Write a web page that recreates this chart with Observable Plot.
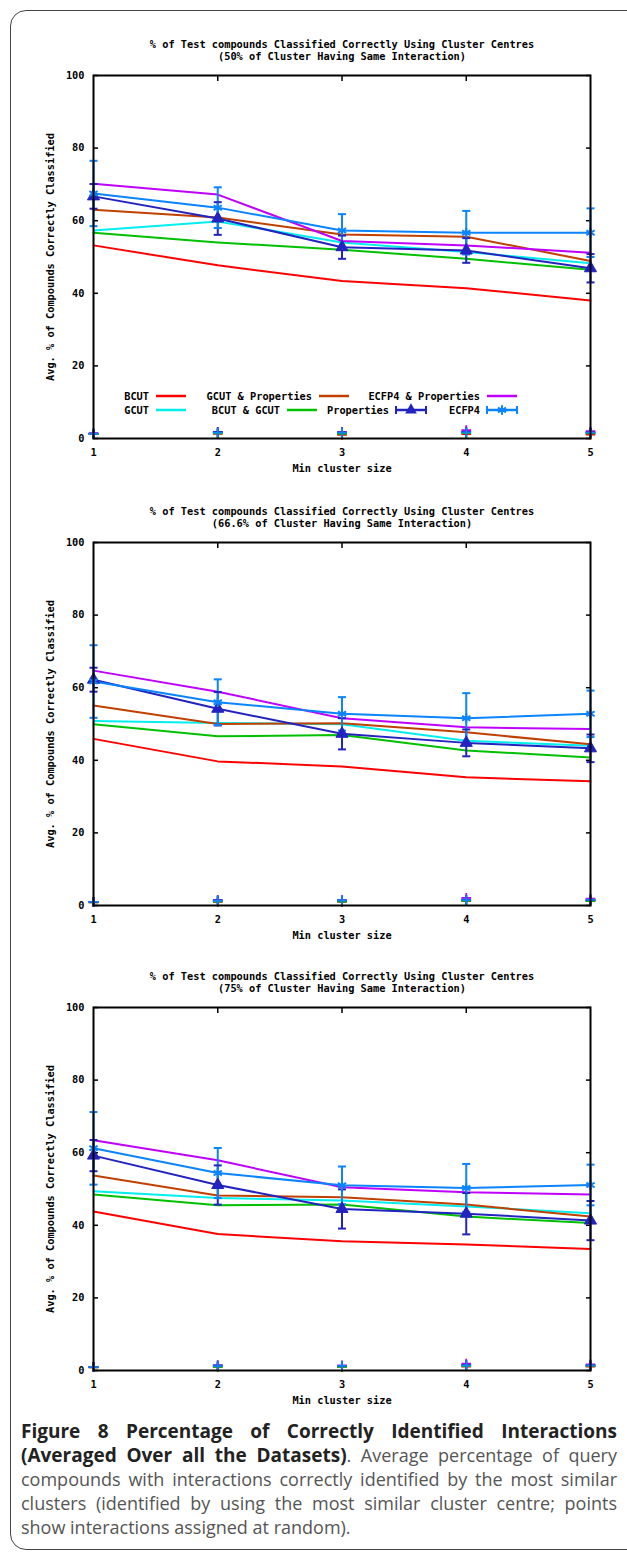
<!DOCTYPE html>
<html><head><meta charset="utf-8">
<script src="https://cdn.jsdelivr.net/npm/d3@7"></script>
<script src="https://cdn.jsdelivr.net/npm/@observablehq/plot@0.6"></script>
<style>
body{margin:0;background:#fff;width:627px;height:1560px;overflow:hidden;position:relative;}
#border{position:absolute;left:10px;top:10px;width:640px;height:1540px;border:1.5px solid #444;border-radius:16px;box-sizing:border-box;}
.panel{position:absolute;left:0;width:627px;}
.legend{position:absolute;left:0;}
#caption{position:absolute;left:21px;width:596px;top:1419px;font-family:"Open Sans";font-size:18px;line-height:24px;color:#555;}
#caption .ln{display:block;height:24px;white-space:nowrap;text-align:justify;text-align-last:justify;}
#caption .ln.last{text-align:left;text-align-last:left;}
#caption b{color:#222;font-weight:700;font-size:19px;}
</style></head><body>
<div id="border"></div>
<div id="p1" class="panel" style="top:25px"></div>
<div id="p2" class="panel" style="top:492px"></div>
<div id="p3" class="panel" style="top:957px"></div>
<div id="caption"><span class="ln" style="white-space:normal"><b>Figure 8 Percentage of Correctly Identified Interactions</b></span><span class="ln" style="white-space:normal"><b>(Averaged Over all the Datasets)</b>. Average percentage of query</span><span class="ln" style="white-space:normal">compounds with interactions correctly identified by the most similar</span><span class="ln" style="white-space:normal">clusters (identified by using the most similar cluster centre; points</span><span class="ln last">show interactions assigned at random).</span></div>
<script>
// ---- data ----
const clusterSizes = [1, 2, 3, 4, 5];
const yTicks = [0, 20, 40, 60, 80, 100];
const innerXTicks = [2, 3, 4];
const seriesNames = ["BCUT", "GCUT", "GCUT & Properties", "BCUT & GCUT", "ECFP4 & Properties", "Properties", "ECFP4"];
const seriesColors = ["#ff0000", "#00eeee", "#c04000", "#00c000", "#c000ff", "#2323c0", "#0a84ff"];
const panelTitles = [
  "% of Test compounds Classified Correctly Using Cluster Centres\n(50% of Cluster Having Same Interaction)",
  "% of Test compounds Classified Correctly Using Cluster Centres\n(66.6% of Cluster Having Same Interaction)",
  "% of Test compounds Classified Correctly Using Cluster Centres\n(75% of Cluster Having Same Interaction)"
];
const xLabel = "Min cluster size";
const yLabel = "Avg. % of Compounds Correctly Classified";

// values per series (order of seriesNames), one entry per cluster size
const values50 = [
  [53.2, 47.7, 43.4, 41.4, 38.0],
  [57.3, 59.8, 54.0, 51.4, 48.3],
  [63.0, 60.9, 56.2, 55.6, 48.9],
  [56.7, 54.0, 52.0, 49.5, 46.5],
  [70.2, 67.2, 54.4, 53.2, 51.2],
  [66.7, 60.6, 52.7, 51.8, 46.9],
  [67.5, 63.6, 57.3, 56.7, 56.7]
];
const values66 = [
  [45.9, 39.7, 38.3, 35.3, 34.2],
  [50.8, 50.3, 49.9, 45.4, 44.0],
  [55.1, 50.0, 50.2, 47.7, 44.4],
  [49.9, 46.6, 47.0, 42.7, 40.8],
  [64.7, 58.9, 51.6, 49.1, 48.6],
  [62.2, 54.2, 47.3, 44.8, 43.3],
  [61.7, 56.0, 52.8, 51.6, 52.8]
];
const values75 = [
  [43.8, 37.6, 35.6, 34.7, 33.5],
  [49.4, 47.5, 46.8, 45.2, 43.3],
  [53.7, 48.2, 47.7, 45.7, 42.4],
  [48.5, 45.5, 45.7, 42.4, 40.6],
  [63.4, 57.9, 50.5, 49.1, 48.5],
  [59.2, 51.1, 44.5, 43.2, 41.3],
  [61.2, 54.4, 51.0, 50.3, 51.1]
];
// error (+/-) for Properties and ECFP4
const errProps50 = [3.4, 4.5, 3.2, 3.4, 3.9];
const errEcfp50  = [9.0, 5.6, 4.5, 6.0, 6.7];
const errProps66 = [3.3, 4.6, 4.3, 3.7, 3.8];
const errEcfp66  = [10.0, 6.3, 4.6, 6.9, 6.4];
const errProps75 = [4.3, 5.4, 5.4, 5.7, 5.4];
const errEcfp75  = [10.0, 6.9, 5.2, 6.6, 5.6];
// random-assignment points (per series)
const random50 = [
  [1.2, 1.3, 1.0, 1.2, 1.1],
  [1.3, 1.6, 1.5, 1.6, 1.5],
  [1.3, 1.5, 1.4, 1.8, 1.6],
  [1.2, 1.4, 1.3, 1.5, 1.4],
  [1.4, 1.8, 1.8, 2.3, 2.0],
  [1.4, 1.8, 1.7, 1.8, 1.7],
  [1.3, 1.6, 1.6, 1.7, 1.6]
];
const random66 = [
  [0.9, 1.0, 1.0, 1.2, 1.2],
  [1.0, 1.3, 1.3, 1.5, 1.5],
  [1.0, 1.2, 1.2, 1.6, 1.4],
  [0.9, 1.1, 1.1, 1.3, 1.2],
  [1.0, 1.4, 1.5, 2.1, 1.9],
  [1.0, 1.5, 1.4, 1.6, 1.5],
  [1.0, 1.3, 1.4, 1.5, 1.6]
];
const random75 = [
  [0.9, 1.0, 1.0, 1.1, 1.1],
  [1.0, 1.2, 1.2, 1.4, 1.4],
  [1.0, 1.1, 1.1, 1.5, 1.3],
  [0.9, 1.0, 1.0, 1.2, 1.2],
  [1.0, 1.4, 1.4, 1.9, 1.7],
  [1.0, 1.4, 1.3, 1.5, 1.4],
  [1.0, 1.2, 1.3, 1.4, 1.4]
];
// legend layout: series indices per row
const legendRows = [[0, 2, 4], [1, 3, 5, 6]];

// ---- drawing ----
const FONT = "DejaVu Sans Mono";
const capSymbol = {draw(ctx, size) { const w = Math.sqrt(size / Math.PI); ctx.moveTo(-w, 0); ctx.lineTo(w, 0); }};

function longRows(values) {
  const rows = [];
  values.forEach((vals, si) => vals.forEach((v, i) => rows.push({series: seriesNames[si], x: clusterSizes[i], y: v})));
  return rows;
}
function errRows(si, vals, errs) {
  return vals.map((v, i) => ({series: seriesNames[si], x: clusterSizes[i], y: v, y1: v - errs[i], y2: v + errs[i]}));
}

function makePanel(title, values, errProps, errEcfp, random) {
  const lines = longRows(values);
  const props = errRows(5, values[5], errProps);
  const ecfp = errRows(6, values[6], errEcfp);
  const errs = props.concat(ecfp);
  const rnd = longRows(random);
  const noText = () => "";
  return Plot.plot({
    width: 627, height: 458,
    marginTop: 50, marginBottom: 45, marginLeft: 93, marginRight: 37,
    style: {fontFamily: FONT, fontWeight: "bold", fontSize: "10.3px", overflow: "visible", background: "transparent"},
    x: {domain: [1, 5], axis: null},
    y: {domain: [0, 100], axis: null},
    color: {domain: seriesNames, range: seriesColors},
    marks: [
      Plot.axisY(yTicks, {anchor: "left", tickSize: 0, tickPadding: 9, tickFormat: d => d, label: null}),
      Plot.axisY(yTicks, {anchor: "left", tickSize: -5, strokeWidth: 1.5, tickFormat: noText, label: null}),
      Plot.axisY(yTicks, {anchor: "right", tickSize: -5, strokeWidth: 1.5, tickFormat: noText, label: null}),
      Plot.axisX(clusterSizes, {anchor: "bottom", tickSize: 0, tickPadding: 10, tickFormat: d => d, label: null}),
      Plot.axisX(innerXTicks, {anchor: "bottom", tickSize: -5, strokeWidth: 1.5, tickFormat: noText, label: null}),
      Plot.axisX(innerXTicks, {anchor: "top", tickSize: -5, strokeWidth: 1.5, tickFormat: noText, label: null}),
      Plot.line(lines, {x: "x", y: "y", z: "series", stroke: "series", strokeWidth: 2}),
      Plot.ruleX(errs, {x: "x", y1: "y1", y2: "y2", stroke: "series", strokeWidth: 2}),
      Plot.dot(errs, {x: "x", y: "y1", symbol: capSymbol, r: 4, stroke: "series", fill: "none", strokeWidth: 2}),
      Plot.dot(errs, {x: "x", y: "y2", symbol: capSymbol, r: 4, stroke: "series", fill: "none", strokeWidth: 2}),
      Plot.dot(props, {x: "x", y: "y", symbol: "triangle", r: 4.5, fill: "series", stroke: "series", strokeWidth: 1}),
      Plot.dot(ecfp, {x: "x", y: "y", symbol: "asterisk", r: 4.5, stroke: "series", strokeWidth: 2}),
      Plot.dot(rnd, {x: "x", y: "y", symbol: "plus", r: 3.2, stroke: "series", strokeWidth: 1.8}),
      Plot.frame({stroke: "black", strokeWidth: 2}),
      Plot.text([title], {text: d => d, frameAnchor: "top", dy: -25, lineAnchor: "middle", lineHeight: 1.17, fill: "black"}),
      Plot.text([xLabel], {text: d => d, frameAnchor: "bottom", dy: 33, fill: "black"}),
      Plot.text([yLabel], {text: d => d, frameAnchor: "left", textAnchor: "middle", dx: -43, rotate: -90, fill: "black"})
    ]
  });
}

function makeLegend() {
  const svg = d3.create("svg").attr("width", 627).attr("height", 44)
    .attr("class", "legend").style("top", "355px")
    .style("font-family", FONT).style("font-weight", "bold").style("font-size", "10.3px");
  const rowY = [16, 30];
  const rowEnds = [[149, 312, 480], [149, 280, 389, 480]];
  legendRows.forEach((row, r) => row.forEach((si, c) => {
    const xe = rowEnds[r][c], y = rowY[r], col = seriesColors[si];
    svg.append("text").attr("x", xe).attr("y", y).attr("text-anchor", "end").attr("dy", "0.35em").text(seriesNames[si]);
    svg.append("line").attr("x1", xe + 7).attr("x2", xe + 37).attr("y1", y).attr("y2", y).attr("stroke", col).attr("stroke-width", 2.5);
    if (si >= 5) {
      [xe + 7, xe + 37].forEach(xx => svg.append("line").attr("x1", xx).attr("x2", xx).attr("y1", y - 4).attr("y2", y + 4).attr("stroke", col).attr("stroke-width", 2));
      const sym = si === 5 ? d3.symbolTriangle : d3.symbolAsterisk;
      const p = svg.append("path").attr("d", d3.symbol(sym, 60)()).attr("transform", `translate(${xe + 22},${y})`);
      if (si === 5) p.attr("fill", col); else p.attr("fill", "none").attr("stroke", col).attr("stroke-width", 2);
    }
  }));
  return svg.node();
}

const p1 = document.getElementById("p1");
p1.appendChild(makePanel(panelTitles[0], values50, errProps50, errEcfp50, random50));
p1.appendChild(makeLegend());
document.getElementById("p2").appendChild(makePanel(panelTitles[1], values66, errProps66, errEcfp66, random66));
document.getElementById("p3").appendChild(makePanel(panelTitles[2], values75, errProps75, errEcfp75, random75));
</script>
</body></html>
